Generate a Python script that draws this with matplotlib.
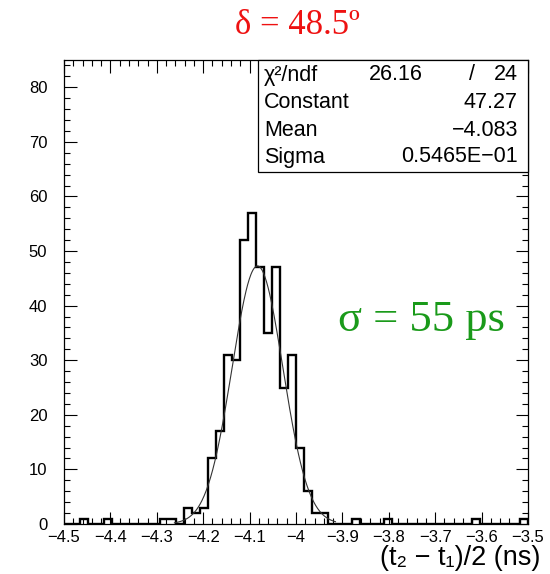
import numpy as np
import matplotlib
matplotlib.use("Agg")
import matplotlib.pyplot as plt
from matplotlib.ticker import MultipleLocator, FuncFormatter
from matplotlib.patches import Rectangle

# ---- data ----
x_min, x_max, n_bins = -4.5, -3.5, 58
counts = [0, 0, 1, 0, 0, 1, 0, 0, 0, 0, 0, 0, 1, 1, 0, 3, 2, 3, 12, 17,
          31, 30, 52, 57, 47, 35, 47, 25, 31, 14, 6, 2, 2, 0, 0, 0, 1, 0, 0, 0,
          1, 0, 0, 0, 0, 0, 0, 0, 0, 0, 0, 1, 0, 0, 0, 0, 0, 1]
fit_const, fit_mean, fit_sigma = 47.27, -4.083, 0.05465
fit_range = (-4.262, -3.915)
stats_labels = ["Constant", "Mean", "Sigma"]
stats_values = ["47.27", "\u22124.083", "0.5465E\u221201"]
chi2_text, ndf_text = "26.16", "24"
title_text = "\u03b4 = 48.5\u00ba"
note_text = "\u03c3 = 55 ps"
xlabel_text = "(t\u2082 \u2212 t\u2081)/2 (ns)"

W, H = 550, 574
fig = plt.figure(figsize=(W / 100, H / 100), dpi=100)
L, R, T, B = 64, 528, 60, 524
ax = fig.add_axes([L / W, 1 - B / H, (R - L) / W, (B - T) / H])

edges = np.linspace(x_min, x_max, n_bins + 1)
ax.stairs(counts, edges, color="black", lw=1.7, baseline=0)
xf = np.linspace(fit_range[0], fit_range[1], 300)
ax.plot(xf, fit_const * np.exp(-0.5 * ((xf - fit_mean) / fit_sigma) ** 2),
        color="#333333", lw=0.8)

ax.set_xlim(x_min, x_max)
ax.set_ylim(0, 85)
ax.xaxis.set_major_locator(MultipleLocator(0.1))
ax.xaxis.set_minor_locator(MultipleLocator(0.02))
ax.yaxis.set_major_locator(MultipleLocator(10))
ax.yaxis.set_minor_locator(MultipleLocator(2))
ax.xaxis.set_major_formatter(FuncFormatter(lambda v, p: ("%g" % round(v, 3)).replace("-", "\u2212")))
ax.tick_params(which="both", direction="in", top=True, right=True, width=0.8)
ax.tick_params(which="major", length=9)
ax.tick_params(which="minor", length=4.5)
ax.tick_params(axis="x", pad=4)
ax.tick_params(axis="y", pad=12)
for lab in ax.get_xticklabels() + ax.get_yticklabels():
    lab.set_fontfamily(["Liberation Sans", "DejaVu Sans"])
    lab.set_fontsize(12)
for s in ax.spines.values():
    s.set_linewidth(0.9)

def fx(px):
    return px / W

def fy(py):
    return 1 - py / H

# stats box
box_l, box_b = 258, 172
fig.patches.append(Rectangle((fx(box_l), fy(box_b)), fx(R) - fx(box_l), fy(T) - fy(box_b),
                             transform=fig.transFigure, facecolor="white",
                             edgecolor="black", lw=0.9, zorder=1))
sfont = dict(family=["Liberation Sans", "DejaVu Sans"], fontsize=15.5, va="center", zorder=3)
rows_y = [75, 102, 130, 157]
fig.text(fx(264), fy(rows_y[0]), "\u03c7\u00b2/ndf", ha="left", **sfont)
fig.text(fx(423), fy(rows_y[0]), chi2_text, ha="right", **sfont)
fig.text(fx(472), fy(rows_y[0]), "/", ha="center", **sfont)
fig.text(fx(518), fy(rows_y[0]), ndf_text, ha="right", **sfont)
for lab, val, y in zip(stats_labels, stats_values, rows_y[1:]):
    fig.text(fx(264), fy(y), lab, ha="left", **sfont)
    fig.text(fx(518), fy(y), val, ha="right", **sfont)

fig.text(fx(297), fy(26), title_text, color="#ee1111", fontsize=25,
         family=["Liberation Serif", "DejaVu Serif"], ha="center", va="center")
fig.text(fx(421), fy(320), note_text, color="#1a9a1a", fontsize=32,
         family=["Liberation Serif", "DejaVu Serif"], ha="center", va="center")
fig.text(fx(540), fy(558), xlabel_text, fontsize=19.5,
         family=["Liberation Sans", "DejaVu Sans"], ha="right", va="center")

fig.savefig("out.png", dpi=100)
